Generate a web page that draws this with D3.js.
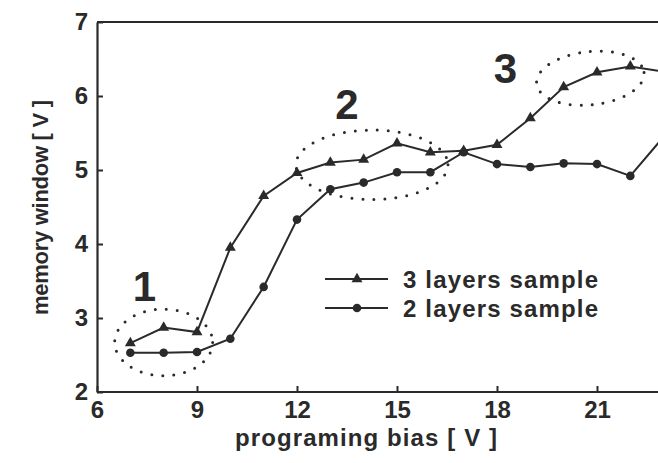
<!DOCTYPE html>
<html>
<head>
<meta charset="utf-8">
<script src="https://cdn.jsdelivr.net/npm/d3@7"></script>
<style>
  html, body { margin: 0; padding: 0; background: #fff; }
  svg { display: block; font-family: "Liberation Sans", Arial, sans-serif; font-weight: bold; }
</style>
</head>
<body>
<svg id="chart" width="658" height="463"></svg>
<script>
// programing bias [V]
const bias = [7, 8, 9, 10, 11, 12, 13, 14, 15, 16, 17, 18, 19, 20, 21, 22, 23];
// memory window [V]
const threeLayers = [2.66, 2.87, 2.81, 3.95, 4.65, 4.96, 5.10, 5.14, 5.36, 5.24, 5.26, 5.34, 5.70, 6.12, 6.32, 6.40, 6.33];
const twoLayers   = [2.53, 2.53, 2.54, 2.72, 3.42, 4.33, 4.74, 4.83, 4.97, 4.97, 5.24, 5.08, 5.04, 5.09, 5.08, 4.92, 5.45];
const xTicks = [6, 9, 12, 15, 18, 21];
const yTicks = [2, 3, 4, 5, 6, 7];

// dotted ellipses around the three regions (data units)
const groups = [
  { label: '1', cx: 8.0,   cy: 2.67, rx: 1.47, ry: 0.45, angle: 0,  lx: 7.42,  ly: 3.43 },
  { label: '2', cx: 14.25, cy: 5.07, rx: 2.28, ry: 0.47, angle: 0,  lx: 13.5,  ly: 5.9 },
  { label: '3', cx: 20.8,  cy: 6.24, rx: 1.62, ry: 0.36, angle: -6, lx: 18.25, ly: 6.38 }
];

const svg = d3.select('#chart');
const ink = '#2a2a2a';
const font = '"Liberation Sans", Arial, sans-serif';

const x = d3.scaleLinear().domain([6, 24]).range([97, 697]);
const y = d3.scaleLinear().domain([2, 7]).range([392, 22]);

// frame top line
svg.append('line')
  .attr('x1', x(6)).attr('x2', 658)
  .attr('y1', y(7)).attr('y2', y(7))
  .attr('stroke', ink).attr('stroke-width', 2.2);

const styleTicks = g => {
  g.selectAll('.tick line').attr('stroke', ink).attr('stroke-width', 2);
  g.selectAll('.tick text')
    .attr('fill', ink)
    .style('font-size', '24px')
    .style('font-family', font)
    .style('font-weight', 'bold');
};

// x axis
const gx = svg.append('g')
  .attr('transform', `translate(0,${y(2)})`)
  .call(d3.axisBottom(x).tickValues(xTicks).tickFormat(d3.format('d'))
    .tickSizeInner(-6).tickSizeOuter(0).tickPadding(9));
gx.select('.domain').attr('d', `M${x(6)},0H658`).attr('stroke', ink).attr('stroke-width', 2.2);
styleTicks(gx);

// y axis
const gy = svg.append('g')
  .attr('transform', `translate(${x(6)},0)`)
  .call(d3.axisLeft(y).tickValues(yTicks).tickFormat(d3.format('d'))
    .tickSizeInner(-6).tickSizeOuter(0).tickPadding(9));
gy.select('.domain').attr('stroke', ink).attr('stroke-width', 2.2);
styleTicks(gy);

// axis titles
svg.append('text')
  .attr('x', 235).attr('y', 446)
  .attr('textLength', 262).attr('lengthAdjust', 'spacing')
  .attr('fill', ink)
  .style('font-size', '24px')
  .text('programing bias [ V ]');

svg.append('text')
  .attr('transform', 'translate(48,315) rotate(-90)')
  .attr('textLength', 215).attr('lengthAdjust', 'spacing')
  .attr('fill', ink)
  .style('font-size', '22px')
  .text('memory window [ V ]');

// dotted ellipses + numbers
groups.forEach(g => {
  const rxPx = x(g.cx + g.rx) - x(g.cx);
  const ryPx = y(g.cy) - y(g.cy + g.ry);
  svg.append('ellipse')
    .attr('transform', `translate(${x(g.cx)},${y(g.cy)}) rotate(${g.angle})`)
    .attr('rx', rxPx).attr('ry', ryPx)
    .attr('fill', 'none')
    .attr('stroke', ink)
    .attr('stroke-width', 3)
    .attr('stroke-linecap', 'round')
    .attr('stroke-dasharray', '0 11');
  svg.append('text')
    .attr('x', x(g.lx)).attr('y', y(g.ly))
    .attr('dy', '0.36em')
    .attr('text-anchor', 'middle')
    .attr('fill', ink)
    .style('font-size', '42px')
    .text(g.label);
});

// series
const series = [
  { name: '3 layers sample', values: threeLayers, marker: 'triangle' },
  { name: '2 layers sample', values: twoLayers, marker: 'circle' }
];

const line = d3.line().x(d => x(d[0])).y(d => y(d[1]));
const tri = d3.symbol().type(d3.symbolTriangle).size(52);

const drawMarker = (sel, kind) => {
  if (kind === 'triangle') {
    sel.append('path').attr('d', tri).attr('fill', ink);
  } else {
    sel.append('circle').attr('r', 4.3).attr('fill', ink);
  }
};

series.forEach(s => {
  const pts = bias.map((b, i) => [b, s.values[i]]);
  svg.append('path')
    .datum(pts)
    .attr('d', line)
    .attr('fill', 'none')
    .attr('stroke', ink)
    .attr('stroke-width', 2);
  pts.forEach(p => {
    const g = svg.append('g').attr('transform', `translate(${x(p[0])},${y(p[1])})`);
    drawMarker(g, s.marker);
  });
});

// legend
const legend = svg.append('g');
series.forEach((s, i) => {
  const ly = 279 + i * 29;
  legend.append('line')
    .attr('x1', 325).attr('x2', 388)
    .attr('y1', ly).attr('y2', ly)
    .attr('stroke', ink).attr('stroke-width', 2);
  const g = legend.append('g').attr('transform', `translate(357,${ly})`);
  drawMarker(g, s.marker);
  legend.append('text')
    .attr('x', 403).attr('y', ly + 9)
    .attr('textLength', 195).attr('lengthAdjust', 'spacing')
    .attr('fill', ink)
    .style('font-size', '24px')
    .text(s.name);
});
</script>
</body>
</html>
